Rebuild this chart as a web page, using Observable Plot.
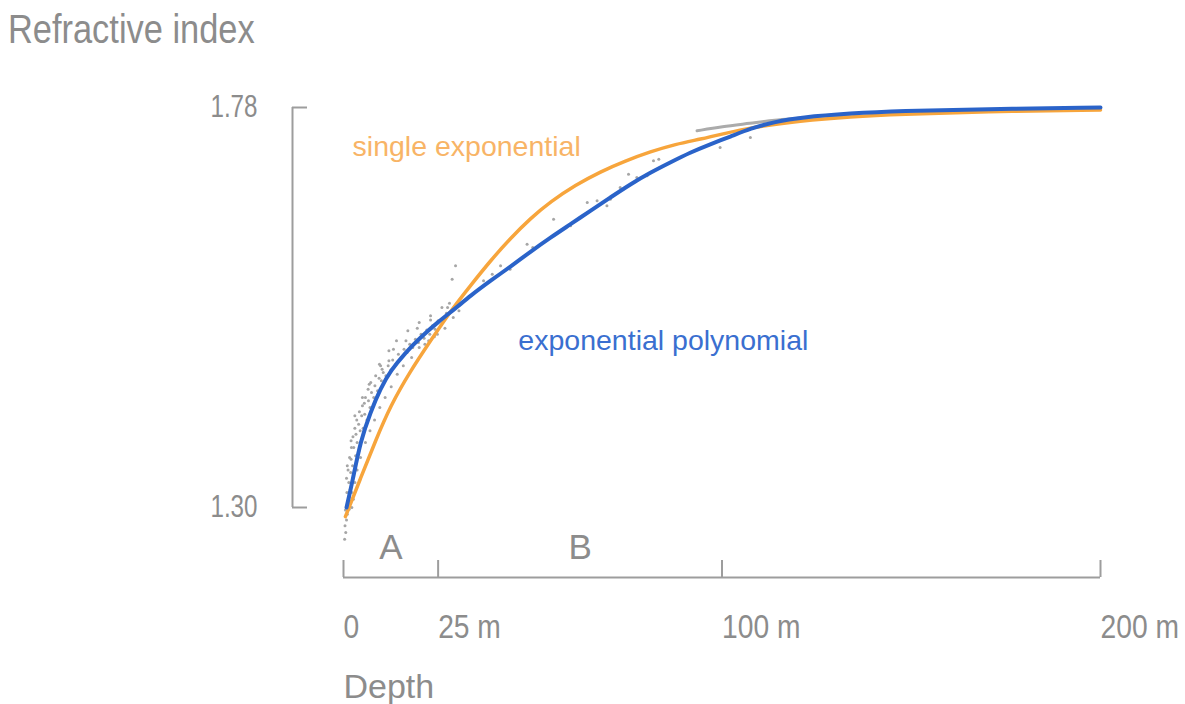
<!DOCTYPE html>
<html>
<head>
<meta charset="utf-8">
<script src="https://cdn.jsdelivr.net/npm/d3@7"></script>
<script src="https://cdn.jsdelivr.net/npm/@observablehq/plot@0.6"></script>
<style>
  html, body { margin: 0; background: #fff; }
  #title {
    height: 60px; box-sizing: border-box; padding: 9px 0 0 8px;
  }
  #title span {
    display: inline-block; transform: scaleX(0.86); transform-origin: left center;
    font-family: "Liberation Sans", Arial, sans-serif;
    font-size: 40px; line-height: 1; color: #8c8c8c; white-space: nowrap;
  }
</style>
</head>
<body>
<div id="title"><span>Refractive index</span></div>
<div id="chart"></div>
<script>
// Exponential-polynomial fit: depth (m) and refractive index
const polyDepth = [0.8, 2.4, 4.5, 7.1, 9.8, 12.4, 16.4, 20.3, 24.8, 29.6, 33.5, 38.8, 44.1, 49.4, 54.7, 60.0, 65.2, 70.5, 75.8, 81.1, 86.3, 91.6, 96.9, 102.2, 107.5, 114.1, 120.7, 133.9, 147.1, 169, 200];
const polyIndex = [1.300, 1.332, 1.380, 1.414, 1.443, 1.464, 1.486, 1.504, 1.522, 1.539, 1.554, 1.572, 1.589, 1.607, 1.624, 1.640, 1.656, 1.672, 1.688, 1.702, 1.714, 1.726, 1.736, 1.745, 1.755, 1.763, 1.768, 1.773, 1.776, 1.778, 1.780];

// Single-exponential fit
const expDepth = [0.5, 4.5, 8.45, 12.4, 17.7, 23.0, 28.3, 33.5, 38.8, 44.1, 49.4, 54.7, 61.3, 67.9, 74.5, 81.1, 87.7, 94.3, 100.9, 107.5, 120.7, 133.9, 147.1, 169, 200];
const expIndex = [1.289, 1.335, 1.380, 1.422, 1.464, 1.500, 1.536, 1.566, 1.596, 1.623, 1.647, 1.667, 1.687, 1.703, 1.716, 1.727, 1.736, 1.742, 1.749, 1.756, 1.764, 1.769, 1.772, 1.775, 1.777];

// Deep reference profile (grey band near the top)
const deepDepth = [93.4, 100, 107.5, 114, 120, 127, 133.9];
const deepIndex = [1.752, 1.757, 1.761, 1.765, 1.767, 1.770, 1.772];

// Measured samples: depth (m) and refractive index
const sampleDepth = [
  0.3, 0.6, 0.4, 0.8, 1.0, 0.5, 1.2, 1.5, 0.9, 1.8, 2.2, 2.6, 1.4, 1.9, 2.4, 2.0, 3.0, 3.2, 2.7, 3.6,
  4.1, 3.3, 4.4, 4.0, 5.2, 4.8, 5.6, 6.2, 5.5, 6.6, 7.0, 7.4, 8.0, 8.3, 9.0, 9.4, 10.0, 10.5, 11.2, 11.8,
  12.5, 13.0, 13.8, 14.5, 15.2, 16.0, 16.8, 17.5, 18.3, 19.0, 19.8, 20.5, 21.3, 22.0, 22.8, 23.5, 24.2, 25.0, 25.8, 26.5,
  27.2, 1.0, 2.0, 3.0, 5.0, 6.8, 9.5, 12.0, 14.0, 17.0, 20.0, 23.0, 26.0, 28.0, 24.0, 21.5, 28.7, 29.6,
  0.8, 1.2, 1.6, 2.1, 2.5, 3.0, 3.5, 4.2, 5.0, 5.8, 6.5, 7.2, 8.5, 10.2, 12.0, 1.5, 2.2, 3.6, 4.5, 5.8,
  7.0, 8.2, 9.6, 11.0, 12.6, 14.2, 15.8, 18.0, 20.0, 22.5, 24.8, 26.8, 19.5, 23.0, 27.5, 29.0, 30.5, 16.5, 13.2, 9.8,
  37.0, 39.3, 41.5, 44.0, 48.5, 50.0, 55.5, 60.0, 64.4, 67.0, 69.6, 70.5, 73.1, 75.3, 77.5, 80.2, 81.9, 83.3, 99.5, 107.5
];
const sampleIndex = [
  1.262, 1.270, 1.278, 1.285, 1.292, 1.297, 1.305, 1.312, 1.318, 1.322, 1.300, 1.310, 1.330, 1.342, 1.350, 1.358, 1.330, 1.362, 1.372, 1.378,
  1.368, 1.388, 1.392, 1.400, 1.395, 1.410, 1.412, 1.405, 1.425, 1.428, 1.420, 1.438, 1.432, 1.446, 1.440, 1.455, 1.452, 1.462, 1.458, 1.470,
  1.465, 1.477, 1.472, 1.484, 1.480, 1.490, 1.486, 1.496, 1.492, 1.502, 1.498, 1.508, 1.503, 1.513, 1.508, 1.518, 1.514, 1.524, 1.519, 1.528,
  1.533, 1.350, 1.380, 1.410, 1.432, 1.448, 1.472, 1.488, 1.500, 1.512, 1.522, 1.530, 1.540, 1.545, 1.505, 1.496, 1.574, 1.590,
  1.335, 1.345, 1.360, 1.372, 1.385, 1.395, 1.405, 1.415, 1.422, 1.432, 1.442, 1.450, 1.458, 1.466, 1.476, 1.298, 1.318, 1.345, 1.360, 1.378,
  1.392, 1.405, 1.420, 1.432, 1.445, 1.460, 1.470, 1.480, 1.492, 1.500, 1.508, 1.515, 1.515, 1.525, 1.540, 1.528, 1.536, 1.500, 1.490, 1.470,
  1.572, 1.580, 1.590, 1.586, 1.616, 1.612, 1.646, 1.638, 1.666, 1.668, 1.662, 1.670, 1.684, 1.700, 1.696, 1.698, 1.716, 1.718, 1.732, 1.744
];

// Axis ticks and depth sections
const depthTicks = [0, 25, 100, 200];
const indexTicks = [1.30, 1.78];
const sectionNames = ["A", "B"];
const sectionBounds = [[0, 25], [25, 100]];

// Curve labels
const curveNames = ["single exponential", "exponential polynomial"];
const curveLabelDepth = [2.4, 46.2];
const curveLabelIndex = [1.733, 1.500];

const ORANGE = "#f7a53c", ORANGE_TEXT = "#f8b466";
const BLUE = "#2a63c9", BLUE_TEXT = "#3a6fd0";
const GREY = "#9d9d9d", TEXT = "#8c8c8c";
const FONT = '"Liberation Sans", Arial, sans-serif';

const poly = polyDepth.map((d, i) => ({d, n: polyIndex[i]}));
const expo = expDepth.map((d, i) => ({d, n: expIndex[i]}));
const deep = deepDepth.map((d, i) => ({d, n: deepIndex[i]}));
const samples = sampleDepth.map((d, i) => ({d, n: sampleIndex[i]}));
const sections = sectionNames.map((name, i) => ({name, mid: (sectionBounds[i][0] + sectionBounds[i][1]) / 2}));
const curveLabels = curveNames.map((name, i) => ({name, d: curveLabelDepth[i], n: curveLabelIndex[i]}));

const chart = Plot.plot({
  width: 1185,
  height: 644,
  marginLeft: 343,
  marginRight: 85,
  marginTop: 47,
  marginBottom: 197,
  x: {domain: [0, 200], axis: null},
  y: {domain: [1.30, 1.78], axis: null},
  style: {fontFamily: FONT, color: TEXT, background: "#fff", overflow: "visible"},
  marks: [
    // Y axis: bracket with outward labels
    Plot.ruleX([0], {y1: indexTicks[0], y2: indexTicks[1], dx: -51, stroke: GREY, strokeWidth: 2}),
    Plot.axisY({ticks: indexTicks, tickSize: -15, dx: -51, stroke: GREY, strokeWidth: 2, fill: "none", label: null}),
    Plot.axisY({ticks: indexTicks, tickSize: 0, tickPadding: 35, dx: -51, tickFormat: ".2f", fontSize: 31, fill: TEXT, label: null}),

    // X axis: baseline, upward ticks, labels
    Plot.ruleY([indexTicks[0]], {x1: depthTicks[0], x2: depthTicks[depthTicks.length - 1], dy: 70, stroke: GREY, strokeWidth: 2}),
    Plot.axisX({ticks: depthTicks, tickSize: -17, dy: 70, stroke: GREY, strokeWidth: 2, fill: "none", label: null}),
    Plot.axisX({ticks: depthTicks, tickSize: 0, tickPadding: 106, textAnchor: "start", fontSize: 34, fill: TEXT,
      tickFormat: d => d === 0 ? "0" : `${d} m`, label: null}),
    Plot.text(["Depth"], {frameAnchor: "bottom-left", dy: 166, textAnchor: "start", lineAnchor: "top", fontSize: 34, fill: TEXT, ariaLabel: "depth-label"}),

    // Section letters
    Plot.text(sections, {x: "mid", frameAnchor: "bottom", text: "name", dy: 40, lineAnchor: "middle", fontSize: 35, fill: TEXT, ariaLabel: "section-label"}),

    // Measured samples
    Plot.dot(samples, {x: "d", y: "n", r: 1.5, fill: "#a6a6a6", stroke: "none"}),
    Plot.line(deep, {x: "d", y: "n", stroke: "#ababab", strokeWidth: 3, curve: "basis"}),

    // Fitted curves
    Plot.line(expo, {x: "d", y: "n", stroke: ORANGE, strokeWidth: 3.5, curve: "basis"}),
    Plot.line(poly, {x: "d", y: "n", stroke: BLUE, strokeWidth: 4, curve: "basis"}),

    // Curve labels
    Plot.text(curveLabels.slice(0, 1), {x: "d", y: "n", text: "name", textAnchor: "start", fontSize: 28.5, fill: ORANGE_TEXT, ariaLabel: "curve-label"}),
    Plot.text(curveLabels.slice(1), {x: "d", y: "n", text: "name", textAnchor: "start", fontSize: 28.5, fill: BLUE_TEXT, ariaLabel: "curve-label"})
  ]
});

// Narrow the typeface horizontally, scaling each label about its own anchor point
const narrowing = {"y-axis tick label": 0.78, "x-axis tick label": 0.83, "section-label": 0.8};
for (const [label, k] of Object.entries(narrowing)) {
  chart.querySelectorAll(`g[aria-label="${label}"] text`).forEach(t => {
    const tr = t.getAttribute("transform") || "";
    t.setAttribute("transform", `${tr} scale(${k},1)`);
  });
}
document.getElementById("chart").appendChild(chart);
</script>
</body>
</html>
